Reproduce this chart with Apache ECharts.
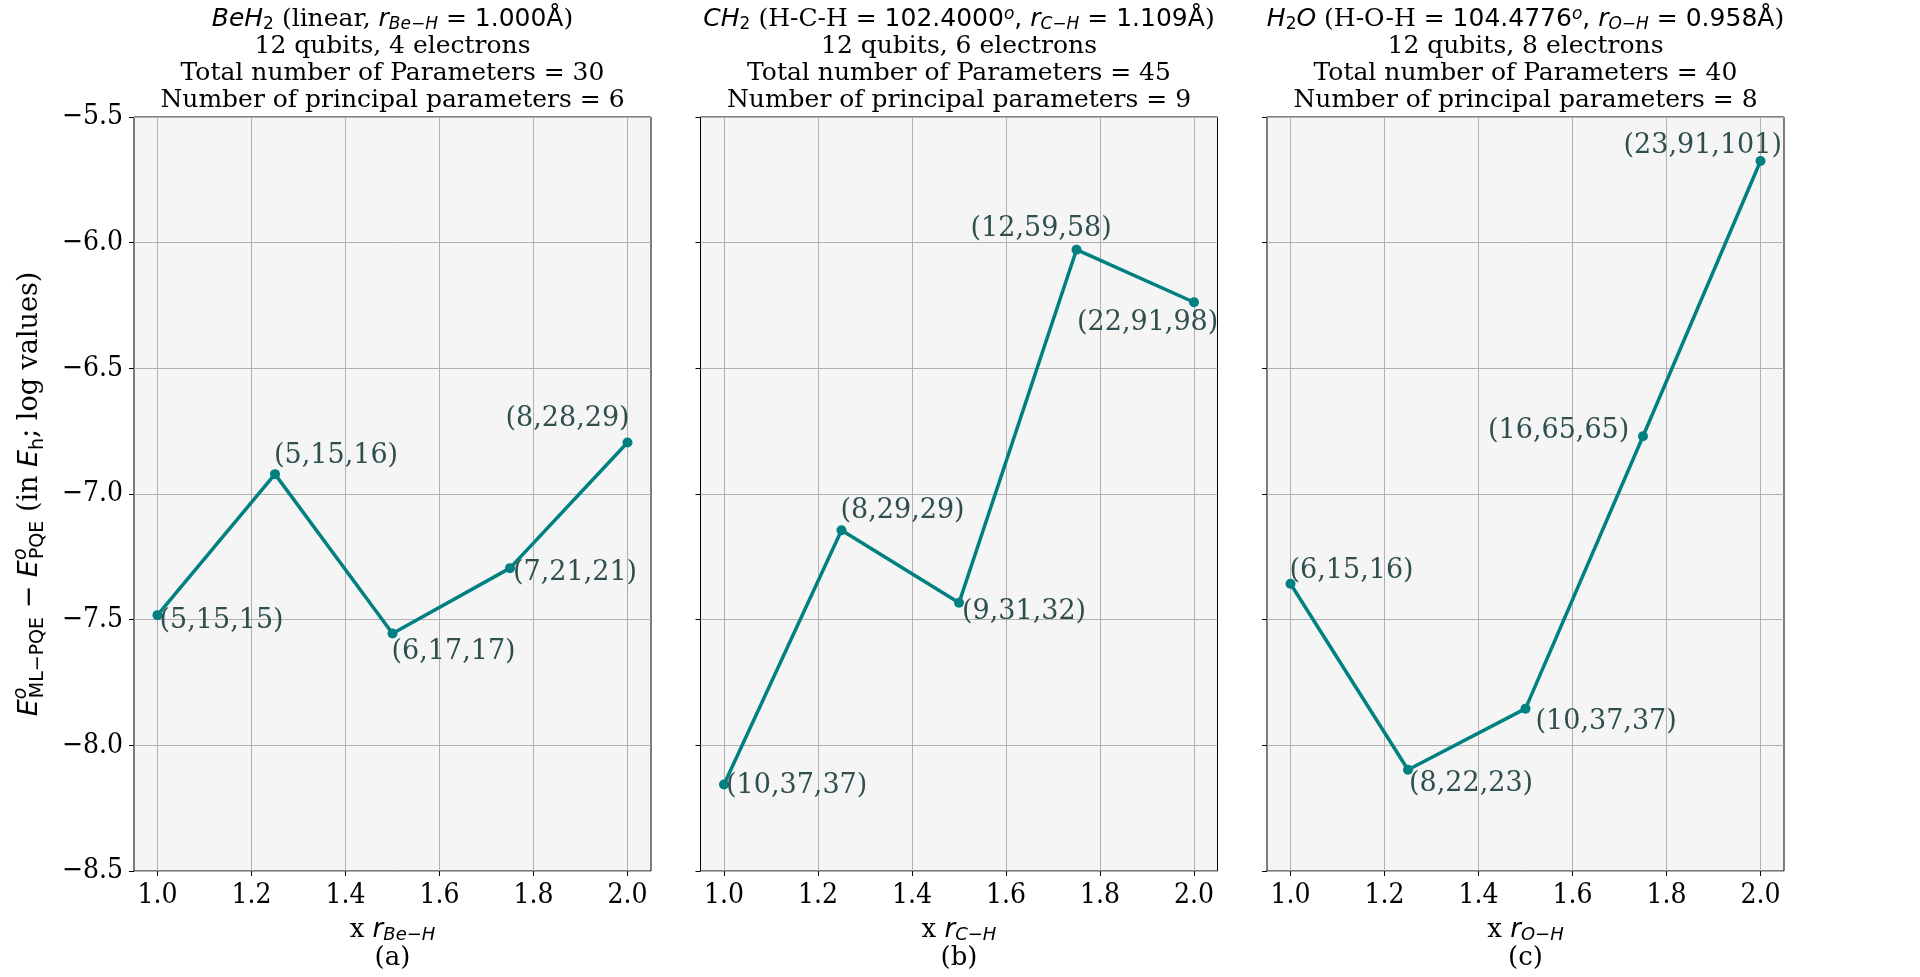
<!DOCTYPE html>
<html lang="en">
<head>
<meta charset="UTF-8">
<script src="https://cdn.jsdelivr.net/npm/echarts@6.0.0/dist/echarts.min.js"></script>
<title>ML-PQE vs PQE energies</title>
<style>
    html, body { margin: 0; padding: 0; background: #fff; }
    #chart { width: 1920px; height: 977px; }
</style>
</head>
<body>
<div id="chart"></div>
<script>
    // bond length scaling factors (x axis)
    var rValues = [1.0, 1.25, 1.5, 1.75, 2.0];
    var xTicks = [1.0, 1.2, 1.4, 1.6, 1.8, 2.0];

    // log energy differences
    var beh2Energy = [-7.482, -6.921, -7.555, -7.295, -6.795];
    var ch2Energy = [-8.156, -7.144, -7.433, -6.028, -6.237];
    var h2oEnergy = [-7.357, -8.097, -7.854, -6.770, -5.675];

    // point annotations
    var beh2Labels = ['(5,15,15)', '(5,15,16)', '(6,17,17)', '(7,21,21)', '(8,28,29)'];
    var ch2Labels = ['(10,37,37)', '(8,29,29)', '(9,31,32)', '(12,59,58)', '(22,91,98)'];
    var h2oLabels = ['(6,15,16)', '(8,22,23)', '(10,37,37)', '(16,65,65)', '(23,91,101)'];

    var SERIF = 'DejaVu Serif';
    var SANS = 'DejaVu Sans';
    var TICKFONT = "'DejaVu Serif Condensed', 'DejaVu Serif'";

    // label placement around each point (pixels)
    var beh2Offsets = [[2, 6], [-1, -18], [-1, 18], [3, 5], [-122, -23]];
    var ch2Offsets = [[2, 1], [-1, -19], [3, 9], [-106, -21], [-117, 21]];
    var h2oOffsets = [[-1, -13], [1, 14], [10, 13], [-155, -5], [-137, -15]];

    function richSet(size, lh, subSize, subLh, align) {
        var base = { color: '#000', fontWeight: 'normal', align: align };
        function s(extra) { return Object.assign({}, base, extra); }
        return {
            t: s({ fontFamily: SERIF, fontSize: size, lineHeight: lh }),
            mi: s({ fontFamily: SANS, fontStyle: 'italic', fontSize: size, lineHeight: lh }),
            mn: s({ fontFamily: SANS, fontSize: size, lineHeight: lh }),
            sub: s({ fontFamily: SANS, fontSize: subSize, lineHeight: subLh, verticalAlign: 'bottom' }),
            subi: s({ fontFamily: SANS, fontStyle: 'italic', fontSize: subSize, lineHeight: subLh, verticalAlign: 'bottom' }),
            sup: s({ fontFamily: SANS, fontStyle: 'italic', fontSize: subSize, lineHeight: subLh, verticalAlign: 'top' }),
            supz: s({ fontFamily: SANS, fontStyle: 'italic', fontSize: subSize, lineHeight: subLh, verticalAlign: 'top', width: 1 })
        };
    }

    var titleRich = richSet(25, 27, 17, 12);
    var xRich = richSet(26, 28, 18, 12);
    var yRich = richSet(27, 36, 19, 16, 'left');

    var panels = [
        {
            left: 134,
            title: '{mi|BeH}{sub|2}{t| (linear, }{mi|r}{subi|Be\u2212H}{mn| = 1.000\u00c5}{t|)}\n' +
                '{t|12 qubits, 4 electrons}\n{t|Total number of Parameters = 30}\n{t|Number of principal parameters = 6}',
            xName: '{t|x }{mi|r}{subi|Be\u2212H}\n{t|(a)}',
            energy: beh2Energy, labels: beh2Labels, offsets: beh2Offsets
        },
        {
            left: 700.5,
            title: '{mi|CH}{sub|2}{t| (H-C-H = }{mn|102.4000}{sup|o}{mn|, }{mi|r}{subi|C\u2212H}{mn| = 1.109\u00c5}{t|)}\n' +
                '{t|12 qubits, 6 electrons}\n{t|Total number of Parameters = 45}\n{t|Number of principal parameters = 9}',
            xName: '{t|x }{mi|r}{subi|C\u2212H}\n{t|(b)}',
            energy: ch2Energy, labels: ch2Labels, offsets: ch2Offsets
        },
        {
            left: 1267,
            title: '{mi|H}{sub|2}{mi|O}{t| (H-O-H = }{mn|104.4776}{sup|o}{mn|, }{mi|r}{subi|O\u2212H}{mn| = 0.958\u00c5}{t|)}\n' +
                '{t|12 qubits, 8 electrons}\n{t|Total number of Parameters = 40}\n{t|Number of principal parameters = 8}',
            xName: '{t|x }{mi|r}{subi|O\u2212H}\n{t|(c)}',
            energy: h2oEnergy, labels: h2oLabels, offsets: h2oOffsets
        }
    ];

    var yName = '{mi|E}{supz|o}{sub|ML\u2212PQE}{mn| \u2212 }{mi|E}{supz|o}{sub|PQE}{t| (in }{mi|E}{sub|h}{t|; log values)}';

    var gridW = 517, gridTop = 117, gridH = 762;
    var grids = [], xAxes = [], yAxes = [], series = [], titles = [];

    panels.forEach(function (p, i) {
        grids.push({
            left: p.left, top: gridTop, width: gridW, height: gridH,
            show: true, backgroundColor: '#f5f5f5', borderColor: '#000', borderWidth: 1
        });
        titles.push({
            text: p.title,
            left: p.left + gridW / 2,
            top: 6,
            textAlign: 'center',
            padding: 0,
            textStyle: { rich: titleRich, fontFamily: SERIF, fontSize: 25, fontWeight: 'normal', lineHeight: 27 }
        });
        xAxes.push({
            type: 'value', gridIndex: i, min: 0.95, max: 2.05, splitNumber: 5,
            axisLine: { show: false },
            axisTick: { show: true, length: 5, customValues: xTicks, lineStyle: { color: '#000', width: 1 } },
            axisLabel: {
                customValues: xTicks, margin: 11, fontFamily: TICKFONT, fontSize: 28, color: '#000',
                formatter: function (v) { return v.toFixed(1); }
            },
            splitLine: { show: true, lineStyle: { color: '#b0b0b0', width: 1 } },
            name: p.xName, nameLocation: 'middle', nameGap: 45,
            nameTextStyle: { rich: xRich, fontFamily: SERIF, fontSize: 26, lineHeight: 28 }
        });
        yAxes.push({
            type: 'value', gridIndex: i, min: -8.5, max: -5.5, interval: 0.5,
            axisLine: { show: false },
            axisTick: { show: true, length: 5, lineStyle: { color: '#000', width: 1 } },
            axisLabel: {
                show: i === 0, margin: 11, fontFamily: TICKFONT, fontSize: 28, color: '#000',
                formatter: function (v) { return v.toFixed(1).replace('-', '\u2212'); }
            },
            splitLine: { show: true, lineStyle: { color: '#b0b0b0', width: 1 } },
            name: i === 0 ? yName : '', nameLocation: 'middle', nameRotate: 90, nameGap: 86,
            nameTextStyle: { rich: yRich, fontFamily: SERIF, fontSize: 27 }
        });
        series.push({
            type: 'line', xAxisIndex: i, yAxisIndex: i,
            data: rValues.map(function (x, k) {
                return { value: [x, p.energy[k]], label: { offset: p.offsets[k] } };
            }),
            symbol: 'circle', symbolSize: 10,
            lineStyle: { color: '#008080', width: 3.5 },
            itemStyle: { color: '#008080' },
            label: {
                show: true, position: 'inside', align: 'left', verticalAlign: 'middle',
                fontFamily: SERIF, fontSize: 27, color: '#2f4f4f',
                formatter: (function (labels) {
                    return function (params) { return labels[params.dataIndex]; };
                })(p.labels)
            },
            emphasis: { disabled: true },
            silent: true
        });
    });

    var chart = echarts.init(document.getElementById('chart'));
    chart.setOption({
        animation: false,
        backgroundColor: '#fff',
        title: titles,
        grid: grids,
        xAxis: xAxes,
        yAxis: yAxes,
        series: series
    });
</script>
</body>
</html>
